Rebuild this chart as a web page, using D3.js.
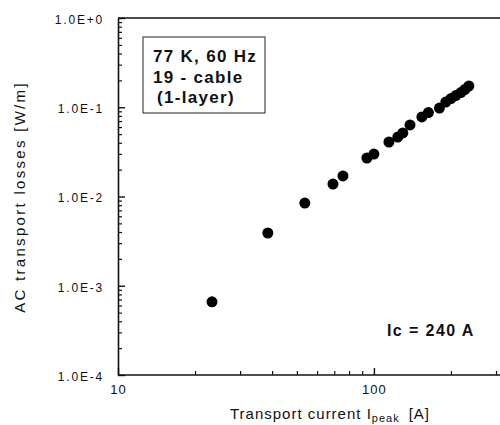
<!DOCTYPE html>
<html>
<head>
<meta charset="utf-8">
<script src="https://cdn.jsdelivr.net/npm/d3@7"></script>
<style>
  body { margin: 0; background: #fff; }
  svg { display: block; font-family: "Liberation Sans", Arial, Helvetica, sans-serif; }
</style>
</head>
<body>
<div id="chart"></div>
<script>
// transport current (A) and AC losses (W/m)
const currents = [23.3, 38.5, 53.7, 69.2, 75.7, 93.9, 100, 114.5, 124, 129.7,
                  138.4, 154, 163.3, 180.3, 191, 200, 209, 218.6, 226.5, 235];
const losses = [6.6e-4, 3.9e-3, 8.45e-3, 0.0138, 0.0170, 0.0270, 0.0299, 0.0408, 0.0464, 0.0515,
                0.0633, 0.0778, 0.0873, 0.098, 0.1145, 0.125, 0.135, 0.146, 0.158, 0.173];
const yMajor = [1e-4, 1e-3, 1e-2, 1e-1, 1];
const yLabels = ['1.0E-4', '1.0E-3', '1.0E-2', '1.0E-1', '1.0E+0'];
const xMajor = [10, 100];
const xLabels = ['10', '100'];
const legendLines = ['77 K, 60 Hz', '19 - cable', '(1-layer)'];

const W = 500, H = 425;
const padL = 118, padT = 18, padB = 375;

const svg = d3.select('#chart').append('svg')
    .attr('width', W)
    .attr('height', H);

const x = d3.scaleLog().domain([10, 300]).range([padL, 496]);
const y = d3.scaleLog().domain([1e-4, 1]).range([padB, padT]);

function minors(lo, hi) {
    const out = [];
    for (let d = lo; d < hi; d *= 10) {
        for (let k = 2; k <= 9; k++) if (d * k <= hi) out.push(d * k);
    }
    return out;
}

// y axis: minor then major ticks, pointing inward
svg.append('g')
    .attr('transform', `translate(${padL},0)`)
    .call(d3.axisLeft(y).tickValues(minors(1e-4, 1)).tickSize(-4).tickSizeOuter(0).tickFormat(''))
    .call(g => g.select('.domain').remove())
    .selectAll('line').attr('stroke', '#111').attr('stroke-width', 1.2);

const yAx = svg.append('g')
    .attr('transform', `translate(${padL},0)`)
    .call(d3.axisLeft(y).tickValues(yMajor).tickSize(-7).tickSizeOuter(0).tickPadding(14)
        .tickFormat((d, i) => yLabels[i]));
yAx.select('.domain').attr('stroke', '#111').attr('stroke-width', 1.6);
yAx.selectAll('line').attr('stroke', '#111').attr('stroke-width', 1.4);
yAx.selectAll('text')
    .attr('font-size', 12)
    .attr('letter-spacing', 1.8)
    .attr('dy', '0.45em')
    .attr('fill', '#111');

// x axis
svg.append('g')
    .attr('transform', `translate(0,${padB})`)
    .call(d3.axisBottom(x).tickValues(minors(10, 300)).tickSize(-4).tickSizeOuter(0).tickFormat(''))
    .call(g => g.select('.domain').remove())
    .selectAll('line').attr('stroke', '#111').attr('stroke-width', 1.2);

const xAx = svg.append('g')
    .attr('transform', `translate(0,${padB})`)
    .call(d3.axisBottom(x).tickValues(xMajor).tickSize(-7).tickSizeOuter(0).tickPadding(10)
        .tickFormat((d, i) => xLabels[i]));
xAx.select('.domain').attr('stroke', '#111').attr('stroke-width', 1.6)
    .attr('d', `M${padL},0H${W}`);
xAx.selectAll('line').attr('stroke', '#111').attr('stroke-width', 1.4);
xAx.selectAll('text')
    .attr('font-size', 13)
    .attr('letter-spacing', 1)
    .attr('fill', '#111');

// top frame line
svg.append('line')
    .attr('x1', padL).attr('x2', W)
    .attr('y1', padT).attr('y2', padT)
    .attr('stroke', '#111').attr('stroke-width', 1.6);

// data points
svg.selectAll('.pt')
    .data(currents)
    .enter().append('circle')
    .attr('class', 'pt')
    .attr('cx', d => x(d))
    .attr('cy', (d, i) => y(losses[i]))
    .attr('r', 5.5)
    .attr('fill', '#000');

// legend box
svg.append('rect')
    .attr('x', 143).attr('y', 37)
    .attr('width', 122).attr('height', 76)
    .attr('fill', 'none')
    .attr('stroke', '#222')
    .attr('stroke-width', 1);

svg.selectAll('.leg')
    .data(legendLines)
    .enter().append('text')
    .attr('class', 'leg')
    .attr('x', (d, i) => i === 2 ? 157 : 153)
    .attr('y', (d, i) => 62 + i * 20.5)
    .attr('font-size', 17)
    .attr('font-weight', 'bold')
    .attr('letter-spacing', 1.3)
    .attr('fill', '#111')
    .text(d => d);

svg.append('text')
    .attr('x', 387).attr('y', 336)
    .attr('font-size', 16)
    .attr('font-weight', 'bold')
    .attr('letter-spacing', 1.4)
    .attr('fill', '#111')
    .text('Ic = 240 A');

// axis titles
const xt = svg.append('text')
    .attr('x', 330).attr('y', 419)
    .attr('text-anchor', 'middle')
    .attr('font-size', 15)
    .attr('letter-spacing', 1)
    .attr('fill', '#111');
xt.append('tspan').text('Transport current I');
xt.append('tspan').attr('font-size', 11).attr('dy', 3).text('peak');
xt.append('tspan').attr('dy', -3).attr('dx', 9).text('[A]');

svg.append('text')
    .attr('transform', 'translate(25,197) rotate(-90)')
    .attr('text-anchor', 'middle')
    .attr('font-size', 15)
    .attr('letter-spacing', 2.3)
    .attr('fill', '#111')
    .text('AC transport losses [W/m]');
</script>
</body>
</html>
